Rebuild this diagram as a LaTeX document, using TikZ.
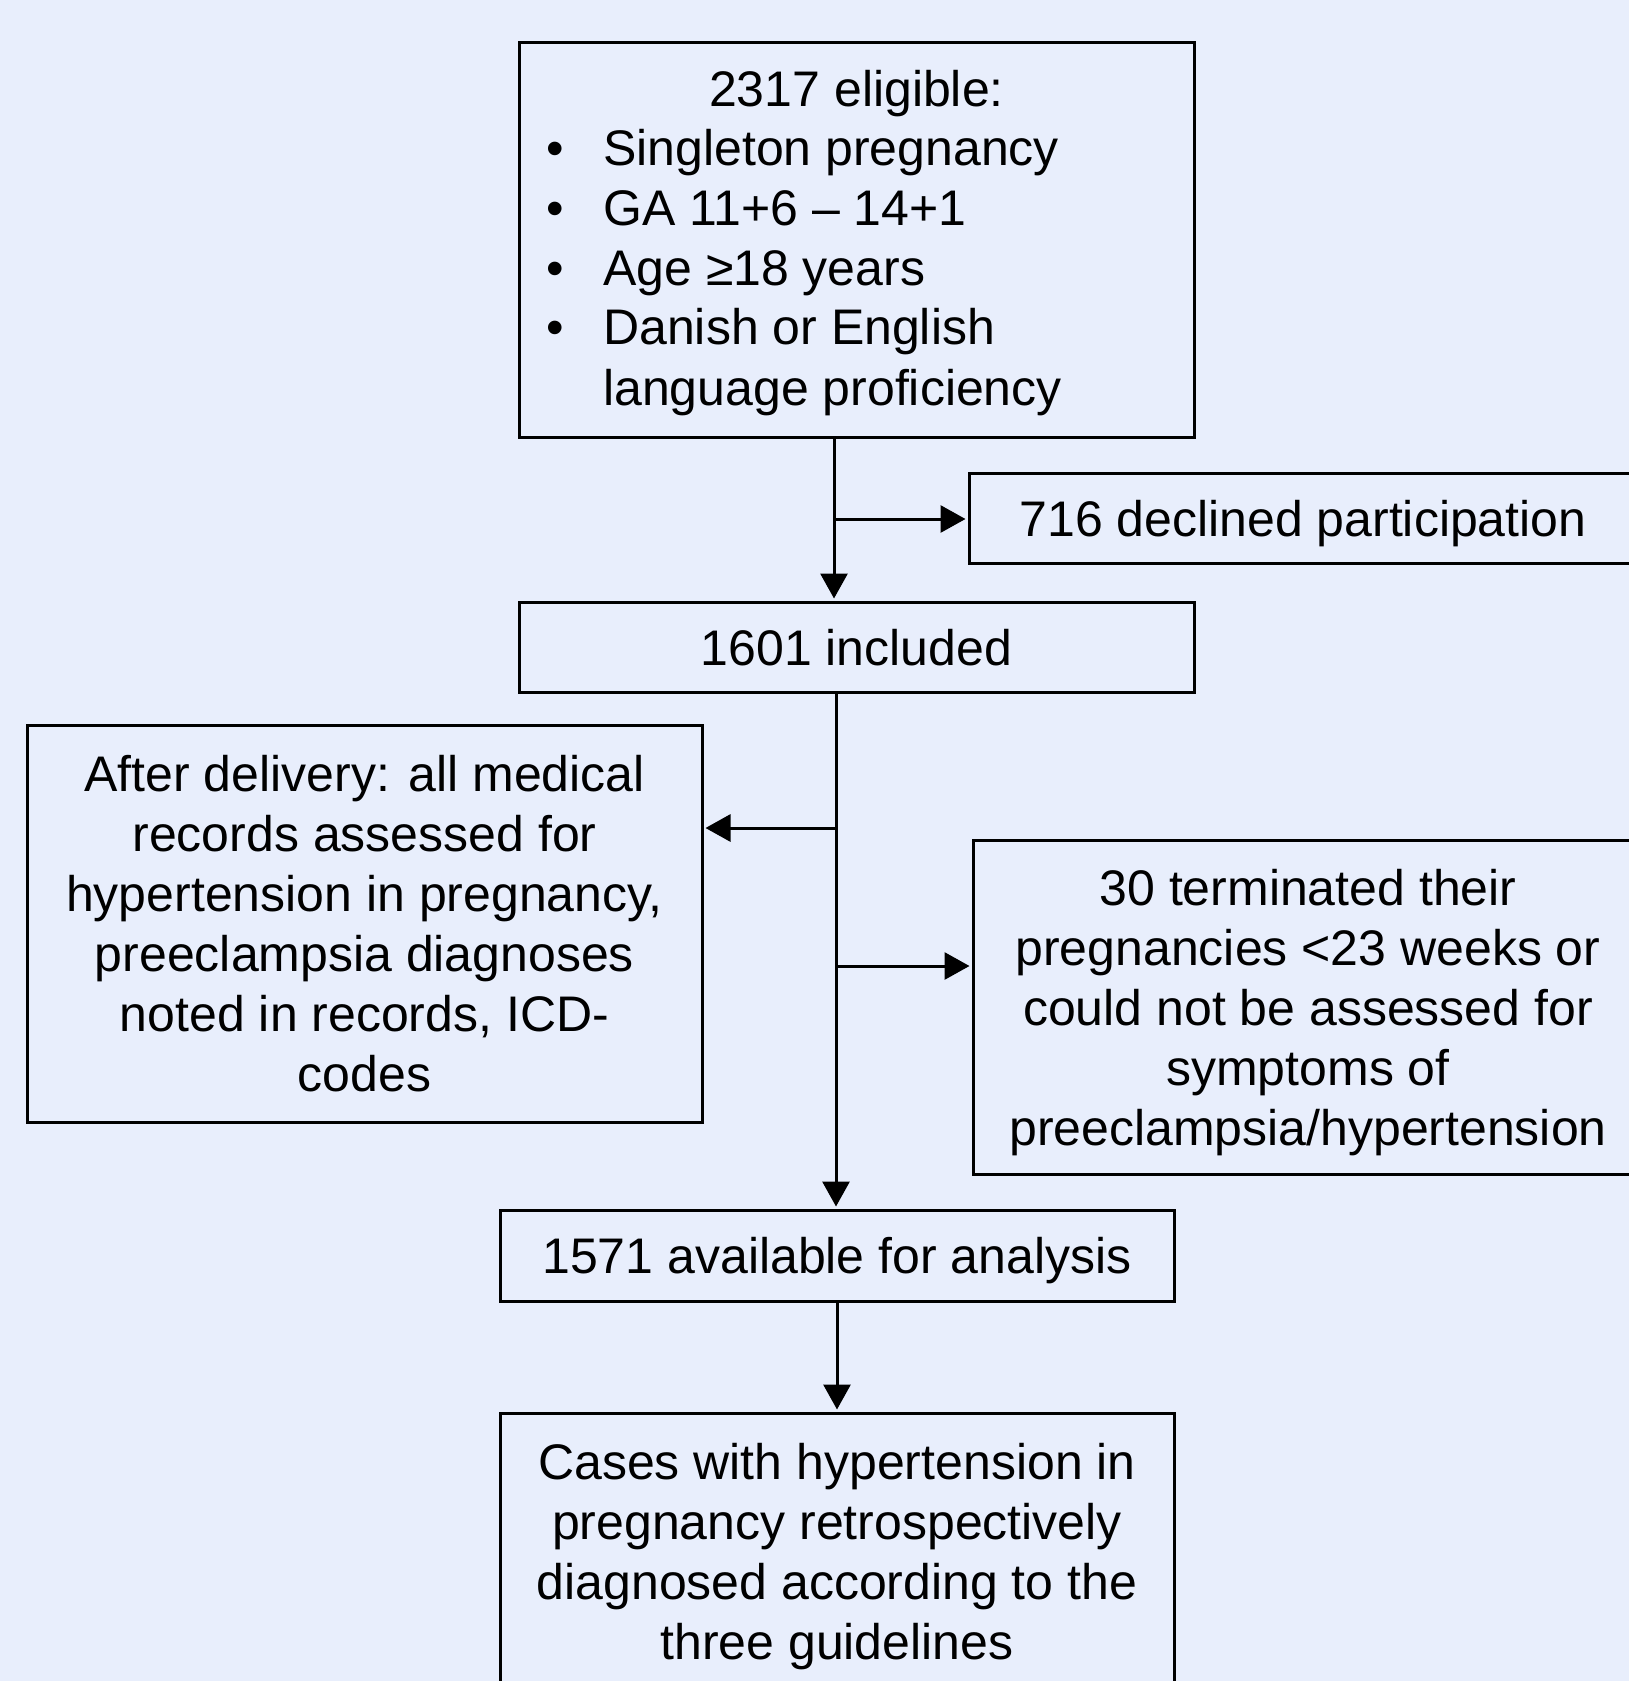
\documentclass[tikz,border=0pt]{standalone}
\usepackage{fontspec}
\setmainfont{Liberation Sans}
\usetikzlibrary{arrows.meta}
\definecolor{bgc}{RGB}{232,238,252}
\tikzset{
  box/.style={draw=black, line width=3pt, fill=bgc, inner sep=0pt, align=center,
    text depth=0pt, font=\fontsize{50}{60}\selectfont},
  txt/.style={inner sep=0pt, font=\fontsize{50}{60}\selectfont},
  arr/.style={draw=black, line width=3pt, -{Triangle[length=25pt,width=27pt]}, shorten >=2pt},
}
\begin{document}
\begin{tikzpicture}[x=1pt,y=-1pt]
\useasboundingbox (0,0) rectangle (1629,1681);
\clip (0,0) rectangle (1629,1681);
\fill[bgc] (0,0) rectangle (1629,1681);

% boxes
\node[box, minimum width=675pt, minimum height=395pt] (elig) at (856.5,239.5) {};
\node[txt, anchor=base] (t0) at (856.5,106) {2317 eligible:};
\node[txt, anchor=base] (b1) at (555,165) {•};
\node[txt, anchor=base west] (l1) at (603,165) {Singleton pregnancy};
\node[txt, anchor=base] (b2) at (555,225) {•};
\node[txt, anchor=base west] (l2) at (603,225) {GA 11+6 – 14+1};
\node[txt, anchor=base] (b3) at (555,285) {•};
\node[txt, anchor=base west] (l3) at (603,285) {Age ≥18 years};
\node[txt, anchor=base] (b4) at (555,344) {•};
\node[txt, anchor=base west] (l4) at (603,344) {Danish or English};
\node[txt, anchor=base west] (l5) at (603,405) {language proficiency};

\node[box, minimum width=668pt, minimum height=90pt] (decl) at (1303,518) {716 declined participation};
\node[box, minimum width=675pt, minimum height=90pt] (incl) at (856.5,647) {1601 included};
\node[box, minimum width=675pt, minimum height=397pt] (after) at (364.5,923.5)
  {After delivery: all medical\\records assessed for\\hypertension in pregnancy,\\preeclampsia diagnoses\\noted in records, ICD-\\codes};
\node[box, minimum width=670pt, minimum height=334pt] (term) at (1308,1007)
  {30 terminated their\\pregnancies <23 weeks or\\could not be assessed for\\symptoms of\\preeclampsia/hypertension};
\node[box, minimum width=674pt, minimum height=91pt] (avail) at (837,1255.5) {1571 available for analysis};
\node[box, minimum width=674pt, minimum height=276pt] (cases) at (837,1551)
  {Cases with hypertension in\\pregnancy retrospectively\\diagnosed according to the\\three guidelines};

% junctions
\coordinate (j1) at (834,519);
\coordinate (j2) at (836,828);
\coordinate (j3) at (836,966);

% connectors
\draw[arr] (elig.south -| j1) -- (incl.north -| j1);
\draw[arr] (j1) -- (decl.west |- j1);
\draw[arr] (incl.south -| j2) -- (avail.north -| j2);
\draw[arr] (j2) -- (after.east |- j2);
\draw[arr] (j3) -- (term.west |- j3);
\draw[arr] (avail.south) -- (cases.north);
\end{tikzpicture}
\end{document}
